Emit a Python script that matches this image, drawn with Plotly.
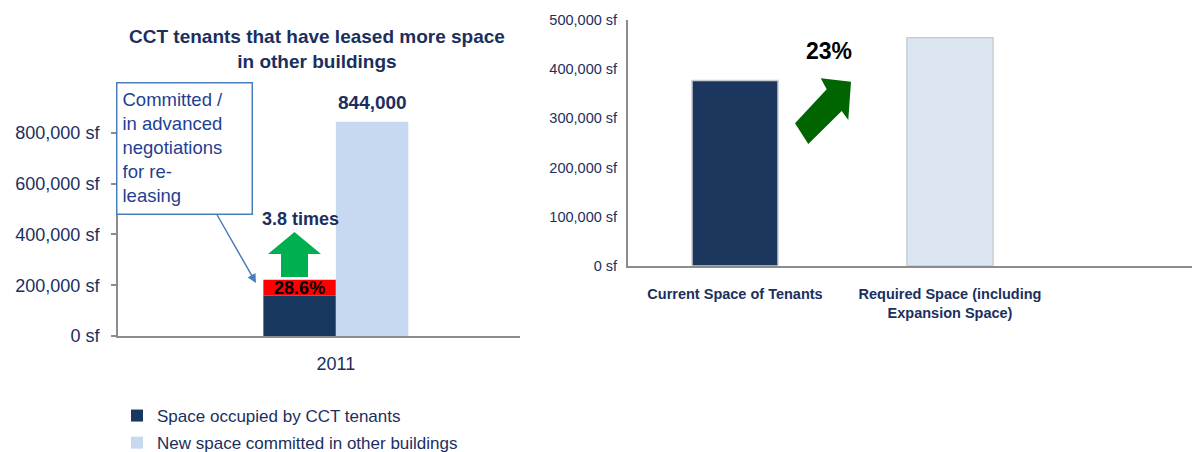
import plotly.graph_objects as go

W, H = 1192, 452

# ---- data ----
years = ["2011"]
occupied_sf = [158600]          # space occupied by CCT tenants
releasing_sf = [63500]          # committed / in advanced negotiations for re-leasing
new_space_sf = [844000]         # new space committed in other buildings
releasing_pct = "28.6%"
growth_multiple = "3.8 times"

space_cats = ["Current Space of Tenants", "Required Space (including<br>Expansion Space)"]
space_sf = [377000, 464000]
space_growth = "23%"

NAVY = "#1B2F5E"
DARK = "#17375E"
LIGHT = "#C6D9F0"
AXIS_GREY = "#8C8C8C"
FONT = "Liberation Sans, Arial"


def px(x):
    return x / W


def py(y):
    return 1 - y / H


def path(points):
    return "M " + " L ".join(f"{px(a):.5f},{py(b):.5f}" for a, b in points) + " Z"


fig = go.Figure()

# left chart: occupied space (with re-leasing share on top) vs new space elsewhere
fig.add_trace(go.Bar(
    x=years, y=occupied_sf, name="Space occupied by CCT tenants",
    marker=dict(color=DARK, line=dict(width=0)), offsetgroup="a", legendgroup="a",
    xaxis="x", yaxis="y",
))
fig.add_trace(go.Bar(
    x=years, y=releasing_sf, base=occupied_sf, name="Re-leasing",
    marker=dict(color="#FF0000", line=dict(width=0)), offsetgroup="a",
    text=[releasing_pct], textposition="inside", insidetextanchor="middle",
    constraintext="none", textangle=0,
    textfont=dict(family=FONT, size=18, color="#000000", weight="bold"),
    showlegend=False, xaxis="x", yaxis="y",
))
fig.add_trace(go.Bar(
    x=years, y=new_space_sf, name="New space committed in other buildings",
    marker=dict(color=LIGHT, line=dict(width=0)), offsetgroup="b", legendgroup="b",
    xaxis="x", yaxis="y",
))

# right chart: current vs required space
fig.add_trace(go.Bar(
    x=space_cats, y=space_sf, showlegend=False,
    marker=dict(color=["#1C375E", "#DCE6F2"], line=dict(color="#C8CDD3", width=1.5)),
    xaxis="x2", yaxis="y2",
))

tick_font_l = dict(family=FONT, size=18, color=NAVY)
tick_font_r = dict(family=FONT, size=14.5, color=NAVY)

fig.update_layout(
    width=W, height=H,
    margin=dict(l=0, r=0, t=0, b=0, autoexpand=False),
    paper_bgcolor="white", plot_bgcolor="white",
    barmode="group", bargap=0.6, bargroupgap=0,
    showlegend=True,
    legend=dict(
        x=px(117), y=py(398), xanchor="left", yanchor="top",
        font=dict(family=FONT, size=17, color=NAVY),
        bgcolor="rgba(0,0,0,0)", tracegroupgap=2, traceorder="grouped",
        itemclick=False,
    ),
    xaxis=dict(
        domain=[px(118), px(520)], range=[-0.601, 0.508],
        showline=True, linecolor=AXIS_GREY, linewidth=2,
        ticks="", tickfont=tick_font_l, ticklabelstandoff=10,
        showgrid=False, zeroline=False, anchor="y",
    ),
    yaxis=dict(
        domain=[py(336), py(120.3)], range=[0, 850000],
        dtick=200000, tickformat=",", ticksuffix=" sf",
        showline=True, linecolor=AXIS_GREY, linewidth=2,
        ticks="outside", ticklen=5, tickcolor=AXIS_GREY, tickwidth=1.5,
        tickfont=tick_font_l, ticklabelstandoff=8,
        showgrid=False, zeroline=False, anchor="x",
    ),
    xaxis2=dict(
        domain=[px(628), 1.0], range=[-0.4977, 2.1256],
        showline=True, linecolor=AXIS_GREY, linewidth=2,
        ticks="", tickfont=dict(family=FONT, size=14.5, color=NAVY, weight="bold"),
        ticklabelstandoff=14, showgrid=False, zeroline=False, anchor="y2",
    ),
    yaxis2=dict(
        domain=[py(266), py(20)], range=[0, 500000],
        dtick=100000, tickformat=",", ticksuffix=" sf",
        showline=True, linecolor=AXIS_GREY, linewidth=2,
        ticks="", tickfont=tick_font_r, ticklabelstandoff=6,
        showgrid=False, zeroline=False, anchor="x2",
    ),
)

shapes = [
    # green upward arrow over the occupied-space bar
    dict(type="path", xref="paper", yref="paper", line=dict(width=0), fillcolor="#00B050",
         path=path([(281, 277), (281, 254), (268, 254), (294.5, 232),
                    (321, 254), (308, 254), (308, 277)])),
    # dark green diagonal arrow between current and required space
    dict(type="path", xref="paper", yref="paper", line=dict(width=0), fillcolor="#006400",
         path=path([(795, 123.3), (826.7, 89.3), (820.7, 78.3), (851, 81.7),
                    (848.3, 120), (841.7, 111), (808.3, 144)])),
]
fig.update_layout(shapes=shapes)

annotations = [
    dict(text="<b>CCT tenants that have leased more space<br>in other buildings</b>",
         xref="paper", yref="paper", x=px(317), y=py(49), xanchor="center", yanchor="middle",
         showarrow=False, font=dict(family=FONT, size=19, color=NAVY)),
    # value label above the new-space bar (centre of the second bar in the group)
    dict(text=f"<b>{new_space_sf[0]:,}</b>", xref="x", yref="y",
         x=0.1, y=new_space_sf[0], xanchor="center", yanchor="bottom", yshift=7,
         showarrow=False, font=dict(family=FONT, size=19, color=NAVY)),
    dict(text="Committed /<br>in advanced<br>negotiations<br>for re-<br>leasing",
         xref="paper", yref="paper", x=px(116), y=py(82), xanchor="left", yanchor="top",
         align="left", valign="top", width=124, height=120, borderpad=5,
         showarrow=False, bgcolor="white", bordercolor="#4A7EBB", borderwidth=1.5,
         font=dict(family=FONT, size=18.5, color="#1F3F93")),
    dict(text="", xref="paper", yref="paper", x=px(256), y=py(283),
         ax=-40, ay=-70, showarrow=True, arrowhead=2, arrowsize=1.2,
         arrowwidth=1.5, arrowcolor="#4A7EBB"),
    dict(text=f"<b>{growth_multiple}</b>", xref="paper", yref="paper",
         x=px(300), y=py(219), xanchor="center", yanchor="middle", showarrow=False,
         font=dict(family=FONT, size=18, color=NAVY)),
    dict(text=f"<b>{space_growth}</b>", xref="paper", yref="paper",
         x=px(829), y=py(51), xanchor="center", yanchor="middle", showarrow=False,
         font=dict(family=FONT, size=23, color="#000000")),
]
fig.update_layout(annotations=annotations)

fig.write_html("out.html")
